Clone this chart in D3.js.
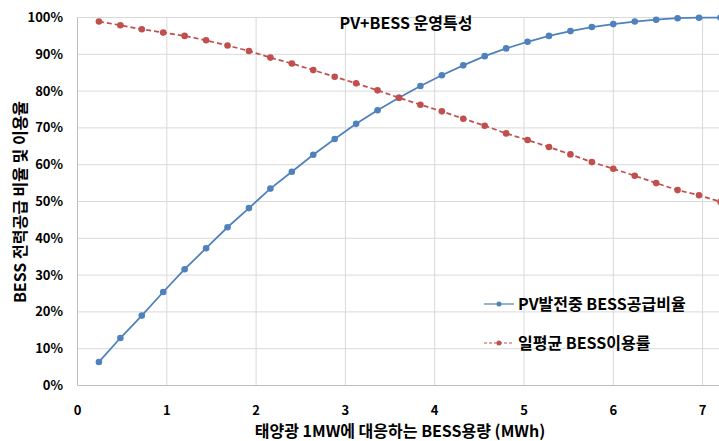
<!DOCTYPE html>
<html>
<head>
<meta charset="utf-8">
<script src="https://cdn.jsdelivr.net/npm/d3@7"></script>
<style>
	body { margin: 0; background: #fff; }
	svg { display: block; }
	text { font-family: "Noto Sans CJK KR", "Noto Sans", sans-serif; font-weight: bold; fill: #000; }
</style>
</head>
<body>
<svg id="chart" width="719" height="441"></svg>
<script>
// BESS capacity per 1MW PV (MWh)
var capacity = [0.24, 0.48, 0.72, 0.96, 1.2, 1.44, 1.68, 1.92, 2.16, 2.4,
	2.64, 2.88, 3.12, 3.36, 3.6, 3.84, 4.08, 4.32, 4.56, 4.8,
	5.04, 5.28, 5.52, 5.76, 6.0, 6.24, 6.48, 6.72, 6.96, 7.2];

// PV발전중 BESS공급비율 (%)
var supplyRatio = [6.4, 12.9, 19.0, 25.4, 31.6, 37.3, 43.0, 48.2, 53.5, 58.1,
	62.7, 67.0, 71.1, 74.8, 78.2, 81.4, 84.3, 87.0, 89.5, 91.6,
	93.4, 95.0, 96.3, 97.4, 98.2, 98.9, 99.4, 99.8, 99.95, 100];

// 일평균 BESS이용률 (%)
var utilization = [98.9, 97.9, 96.8, 95.9, 95.0, 93.8, 92.4, 90.9, 89.1, 87.5,
	85.7, 83.9, 82.1, 80.2, 78.2, 76.3, 74.5, 72.5, 70.6, 68.5,
	66.7, 64.8, 62.8, 60.7, 58.9, 57.0, 55.0, 53.1, 51.7, 49.9];

var xTicks = [0, 1, 2, 3, 4, 5, 6, 7];
var yTicks = [0, 10, 20, 30, 40, 50, 60, 70, 80, 90, 100];

var seriesNames = ["PV발전중 BESS공급비율", "일평균 BESS이용률"];
var colors = ["#4f81bd", "#c0504d"];

var svg = d3.select("#chart");

var x = d3.scaleLinear().domain([0, 8]).range([77.5, 77.5 + 8 * 89.3]);
var y = d3.scaleLinear().domain([0, 100]).range([385.5, 17.5]);

// gridlines
var grid = svg.append("g");
grid.selectAll("line.h").data(yTicks.slice(1))
	.enter().append("line")
		.attr("x1", x(0)).attr("x2", 719)
		.attr("y1", function(d) { return y(d); })
		.attr("y2", function(d) { return y(d); })
		.attr("stroke", "#d9d9d9").attr("stroke-width", 1);
grid.selectAll("line.v").data(xTicks.slice(1))
	.enter().append("line")
		.attr("x1", function(d) { return x(d); })
		.attr("x2", function(d) { return x(d); })
		.attr("y1", y(100)).attr("y2", y(0))
		.attr("stroke", "#d9d9d9").attr("stroke-width", 1);

// axes lines
svg.append("line")
	.attr("x1", x(0)).attr("x2", x(0)).attr("y1", y(100)).attr("y2", y(0))
	.attr("stroke", "#bfbfbf");
svg.append("line")
	.attr("x1", x(0)).attr("x2", 719).attr("y1", y(0)).attr("y2", y(0))
	.attr("stroke", "#bfbfbf");

// tick labels
svg.append("g").selectAll("text").data(yTicks)
	.enter().append("text")
		.attr("x", 63)
		.attr("y", function(d) { return y(d); })
		.attr("dy", "0.35em")
		.attr("text-anchor", "end")
		.attr("font-size", 13)
		.text(function(d) { return d + "%"; });

svg.append("g").selectAll("text").data(xTicks)
	.enter().append("text")
		.attr("x", function(d) { return x(d); })
		.attr("y", 410)
		.attr("dy", "0.35em")
		.attr("text-anchor", "middle")
		.attr("font-size", 13)
		.text(function(d) { return d; });

// titles
svg.append("text")
	.attr("x", 406).attr("y", 23)
	.attr("dy", "0.35em")
	.attr("text-anchor", "middle")
	.attr("font-size", 16)
	.text("PV+BESS 운영특성");

svg.append("text")
	.attr("x", 400).attr("y", 431)
	.attr("dy", "0.35em")
	.attr("text-anchor", "middle")
	.attr("font-size", 16)
	.text("태양광 1MW에 대응하는 BESS용량 (MWh)");

svg.append("text")
	.attr("transform", "translate(20,202) rotate(-90)")
	.attr("dy", "0.35em")
	.attr("text-anchor", "middle")
	.attr("font-size", 16)
	.text("BESS 전력공급 비율 및 이용율");

// series
var allSeries = [supplyRatio, utilization];
var line = d3.line()
	.x(function(d) { return x(d[0]); })
	.y(function(d) { return y(d[1]); });

allSeries.forEach(function(vals, k) {
	var pts = capacity.map(function(c, i) { return [c, vals[i]]; });
	var g = svg.append("g");
	g.append("path")
		.attr("d", line(pts))
		.attr("fill", "none")
		.attr("stroke", colors[k])
		.attr("stroke-width", 1.75)
		.attr("stroke-dasharray", k == 1 ? "5,3" : null);
	g.selectAll("circle").data(pts)
		.enter().append("circle")
			.attr("cx", function(d) { return x(d[0]); })
			.attr("cy", function(d) { return y(d[1]); })
			.attr("r", 3.3)
			.attr("fill", colors[k]);
});

// legend
var legend = svg.append("g");
seriesNames.forEach(function(name, k) {
	var ly = 304 + k * 39;
	legend.append("line")
		.attr("x1", 484).attr("x2", 514)
		.attr("y1", ly).attr("y2", ly)
		.attr("stroke", colors[k])
		.attr("stroke-width", 1.2)
		.attr("stroke-dasharray", k == 1 ? "3,2" : null);
	legend.append("circle")
		.attr("cx", 499).attr("cy", ly).attr("r", 2.5)
		.attr("fill", colors[k]);
	legend.append("text")
		.attr("x", 518).attr("y", ly)
		.attr("dy", "0.35em")
		.attr("font-size", 16)
		.text(name);
});
</script>
</body>
</html>
